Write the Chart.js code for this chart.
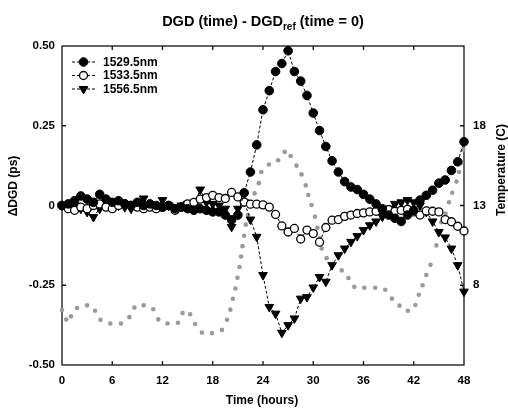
<!DOCTYPE html>
<html>
<head>
<meta charset="utf-8">
<script src="https://cdn.jsdelivr.net/npm/chart.js@4/dist/chart.umd.min.js"></script>
<style>
html,body{margin:0;padding:0;background:#fff;}
canvas{display:block;}
</style>
</head>
<body>
<canvas id="c" width="508" height="409"></canvas>
<script>
// ---- data ----
const seriesLabels = ['1529.5nm', '1533.5nm', '1556.5nm'];
const times = [0,0.75,1.5,2.25,3,3.75,4.5,5.25,6,6.75,7.5,8.25,9,9.75,10.5,11.25,12,12.75,13.5,14.25,15,15.75,16.5,17.25,18,18.75,19.5,20.25,21,21.75,22.5,23.25,24,24.75,25.5,26.25,27,27.75,28.5,29.25,30,30.75,31.5,32.25,33,33.75,34.5,35.25,36,36.75,37.5,38.25,39,39.75,40.5,41.25,42,42.75,43.5,44.25,45,45.75,46.5,47.25,48];
const dgd1529 = [0.0,0.005,0.015,0.03,0.02,0.01,0.035,0.02,0.01,0.015,
  0.005,0.0,0.01,0.0,0.005,0.0,-0.005,0.0,-0.01,-0.005,
  -0.01,-0.015,-0.01,-0.015,-0.02,-0.02,-0.03,-0.045,-0.03,0.04,
  0.105,0.19,0.30,0.36,0.42,0.445,0.485,0.42,0.39,0.345,
  0.29,0.235,0.185,0.14,0.105,0.075,0.058,0.05,0.035,0.02,
  0.005,-0.01,-0.03,-0.04,-0.05,-0.03,-0.015,0.017,0.032,0.048,
  0.07,0.08,0.11,0.137,0.2];
const dgd1533 = [0.0,-0.01,-0.015,-0.005,-0.01,0.0,0.005,-0.005,-0.01,0.0,
  0.005,0.0,-0.005,-0.01,-0.005,-0.01,-0.005,0.0,-0.015,-0.005,
  0.005,0.01,0.02,0.025,0.032,0.025,0.022,0.041,0.027,0.011,
  0.004,0.004,0.002,-0.005,-0.028,-0.064,-0.083,-0.072,-0.105,-0.077,
  -0.088,-0.115,-0.069,-0.046,-0.044,-0.034,-0.03,-0.025,-0.023,-0.02,
  -0.018,-0.013,-0.013,-0.018,-0.015,-0.012,-0.02,-0.03,-0.017,-0.018,
  -0.02,-0.044,-0.051,-0.065,-0.08];
const dgd1556 = [0.0,-0.005,0.0,-0.01,-0.02,-0.036,-0.01,0.0,-0.005,0.0,
  -0.005,-0.01,0.005,0.022,0.0,-0.005,0.017,0.0,-0.005,0.0,
  0.005,0.0,0.05,0.01,0.005,0.0,-0.01,-0.067,-0.01,0.011,
  -0.044,-0.098,-0.218,-0.318,-0.339,-0.399,-0.375,-0.354,-0.292,-0.287,
  -0.257,-0.224,-0.239,-0.187,-0.156,-0.135,-0.114,-0.096,-0.077,-0.062,
  -0.05,-0.035,-0.01,0.005,0.01,0.017,0.01,0.0,-0.02,-0.05,
  -0.083,-0.1,-0.135,-0.187,-0.27];
const tempTime = [0.0,0.5,1.07,1.8,3.0,3.94,4.6,5.77,7.04,8.04,8.64,9.75,10.9,11.5,12.6,13.85,14.4,15.3,15.9,16.7,17.9,19.1,19.7,20.1,20.4,20.7,20.95,21.2,21.38,21.55,21.75,21.95,22.2,22.6,23.0,23.5,23.8,24.7,25.8,26.6,27.3,28.0,28.6,29.1,29.4,29.8,30.2,30.5,30.75,31.0,31.6,32.2,33.4,34.2,34.9,36.1,37.4,38.6,39.4,40.3,41.3,42.2,42.6,43.05,43.5,44.0,44.7,45.0,45.3,45.8,46.2,46.6,47.1,47.4,47.7,47.9];
const tempValue = [6.45,5.85,6.05,6.57,6.74,6.4,5.83,5.6,5.6,6.0,6.6,6.74,6.5,5.86,5.6,5.65,6.26,6.18,5.57,5.03,5.0,5.2,5.84,6.47,7.15,7.8,8.47,9.14,9.8,10.45,11.1,11.8,12.4,13.1,13.76,14.4,15.1,15.57,15.84,16.36,16.1,15.5,14.95,14.26,13.66,13.03,12.3,11.6,10.95,10.3,9.7,9.2,8.93,8.45,7.9,7.84,7.84,7.72,7.16,6.72,6.4,6.76,7.4,8.0,8.64,9.28,10.5,11.2,11.95,12.5,13.2,13.8,14.5,15.1,15.7,16.5];
const xTicks = [0,6,12,18,24,30,36,42,48];
const yTicks = [-0.5,-0.25,0,0.25,0.5];
const y2Ticks = [8,13,18];

// ---- chart ----
const FONT = '"Liberation Sans", Arial, sans-serif';
const pts = (xs, ys) => xs.map((x, i) => ({x: x, y: ys[i]}));

const dashCommon = {showLine:true, borderColor:'#000', borderWidth:1, borderDash:[3,2], tension:0, clip:false, yAxisID:'y'};
const datasets = [
  Object.assign({label:seriesLabels[0], data:pts(times,dgd1529), pointStyle:'circle', pointRadius:4.3,
    pointBackgroundColor:'#000', pointBorderColor:'#000', pointBorderWidth:1}, dashCommon),
  Object.assign({label:seriesLabels[1], data:pts(times,dgd1533), pointStyle:'circle', pointRadius:4,
    pointBackgroundColor:'#fff', pointBorderColor:'#000', pointBorderWidth:1.3}, dashCommon),
  Object.assign({label:seriesLabels[2], data:pts(times,dgd1556), pointStyle:'triangle', pointRotation:180, pointRadius:5,
    pointBackgroundColor:'#000', pointBorderColor:'#000', pointBorderWidth:1}, dashCommon),
  {label:'Temperature', data:pts(tempTime,tempValue), showLine:false, pointRadius:2.3, pointBorderWidth:0,
    pointBackgroundColor:'#9a9a9a', pointBorderColor:'#9a9a9a', clip:false, yAxisID:'y2'}
];

const decor = {
  id:'decor',
  beforeDatasetsDraw(chart){
    const {ctx, chartArea:a, scales} = chart;
    ctx.save();
    ctx.strokeStyle = '#111';
    ctx.lineWidth = 1.3;
    ctx.strokeRect(a.left, a.top, a.right - a.left, a.bottom - a.top);
    ctx.beginPath();
    xTicks.forEach(v => {
      if (v <= 0 || v >= 48) return;
      const p = scales.x.getPixelForValue(v);
      ctx.moveTo(p, a.bottom); ctx.lineTo(p, a.bottom - 4);
      ctx.moveTo(p, a.top); ctx.lineTo(p, a.top + 4);
    });
    yTicks.forEach(v => {
      if (v <= -0.5 || v >= 0.5) return;
      const p = scales.y.getPixelForValue(v);
      ctx.moveTo(a.left, p); ctx.lineTo(a.left + 4, p);
    });
    y2Ticks.forEach(v => {
      const p = scales.y2.getPixelForValue(v);
      ctx.moveTo(a.right, p); ctx.lineTo(a.right - 4, p);
    });
    ctx.stroke();
    ctx.restore();
  },
  afterDraw(chart){
    const {ctx, chartArea:a} = chart;
    ctx.save();
    ctx.fillStyle = '#000';
    // title with subscript
    const big = 'bold 14.5px ' + FONT, small = 'bold 10px ' + FONT;
    const p1 = 'DGD (time) - DGD', p2 = 'ref', p3 = ' (time = 0)';
    ctx.font = big; const w1 = ctx.measureText(p1).width, w3 = ctx.measureText(p3).width;
    ctx.font = small; const w2 = ctx.measureText(p2).width;
    let x = 263 - (w1 + w2 + w3) / 2;
    ctx.textBaseline = 'alphabetic'; ctx.textAlign = 'left';
    ctx.font = big; ctx.fillText(p1, x, 26); x += w1;
    ctx.font = small; ctx.fillText(p2, x, 30); x += w2;
    ctx.font = big; ctx.fillText(p3, x, 26);
    // axis titles
    ctx.font = 'bold 12px ' + FONT;
    ctx.textAlign = 'center'; ctx.textBaseline = 'middle';
    ctx.fillText('Time (hours)', 262, 401);
    ctx.save(); ctx.translate(14, 186); ctx.rotate(-Math.PI/2); ctx.fillText('\u0394DGD (ps)', 0, 0); ctx.restore();
    ctx.save(); ctx.translate(502, 170); ctx.rotate(-Math.PI/2); ctx.fillText('Temperature (C)', 0, 0); ctx.restore();
    // legend
    const rows = [62, 75.5, 89];
    ctx.textAlign = 'left';
    for (let i = 0; i < 3; i++) {
      const ds = chart.data.datasets[i];
      const yy = rows[i];
      ctx.save();
      ctx.strokeStyle = '#000'; ctx.lineWidth = 1; ctx.setLineDash([3,2]);
      ctx.beginPath(); ctx.moveTo(72, yy); ctx.lineTo(95, yy); ctx.stroke();
      ctx.restore();
      ctx.save();
      ctx.fillStyle = ds.pointBackgroundColor; ctx.strokeStyle = ds.pointBorderColor; ctx.lineWidth = ds.pointBorderWidth;
      Chart.helpers.drawPoint(ctx, {pointStyle: ds.pointStyle, rotation: ds.pointRotation || 0, radius: ds.pointRadius, borderWidth: ds.pointBorderWidth}, 83.5, yy);
      ctx.restore();
      ctx.fillStyle = '#000';
      ctx.font = 'bold 12px ' + FONT;
      ctx.fillText(ds.label, 103, yy + 0.5);
    }
    ctx.restore();
  }
};

new Chart(document.getElementById('c'), {
  type: 'scatter',
  data: {datasets: datasets},
  options: {
    responsive: false,
    animation: false,
    devicePixelRatio: 1,
    layout: {padding: {top: 46, left: 0, right: 0, bottom: 0}},
    plugins: {legend: {display: false}, tooltip: {enabled: false}, title: {display: false}},
    scales: {
      x: {
        type: 'linear', min: 0, max: 48, position: 'bottom',
        afterBuildTicks: s => { s.ticks = xTicks.map(v => ({value: v})); },
        afterFit: s => { s.height = 44; },
        grid: {display: false, drawTicks: false}, border: {display: false},
        ticks: {color: '#000', font: {family: FONT, size: 11.5, weight: 'bold'}, padding: 9, maxRotation: 0, autoSkip: false}
      },
      y: {
        type: 'linear', min: -0.5, max: 0.5, position: 'left',
        afterBuildTicks: s => { s.ticks = yTicks.map(v => ({value: v})); },
        afterFit: s => { s.width = 62; },
        grid: {display: false, drawTicks: false}, border: {display: false},
        ticks: {color: '#000', font: {family: FONT, size: 11.5, weight: 'bold'}, padding: 7,
          callback: v => v === 0 ? '0' : v.toFixed(2)}
      },
      y2: {
        type: 'linear', min: 3, max: 23, position: 'right',
        afterBuildTicks: s => { s.ticks = y2Ticks.map(v => ({value: v})); },
        afterFit: s => { s.width = 44; },
        grid: {display: false, drawTicks: false}, border: {display: false},
        ticks: {color: '#000', font: {family: FONT, size: 11.5, weight: 'bold'}, padding: 9,
          callback: v => String(v)}
      }
    }
  },
  plugins: [decor]
});
</script>
</body>
</html>
